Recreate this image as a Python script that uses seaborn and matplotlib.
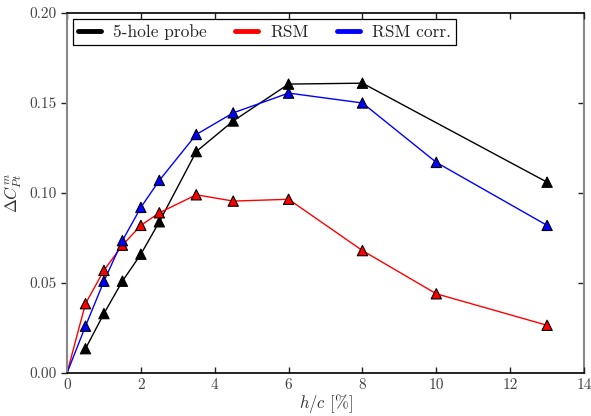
import matplotlib
matplotlib.use('Agg')
import matplotlib.pyplot as plt
from matplotlib.lines import Line2D
import seaborn as sns
import pandas as pd

# data
hc_probe = [0.5, 1.0, 1.5, 2.0, 2.5, 3.5, 4.5, 6.0, 8.0, 13.0]
dcp_probe = [0.0135, 0.033, 0.051, 0.066, 0.084, 0.123, 0.140, 0.1605, 0.161, 0.106]

hc_rsm = [0.0, 0.5, 1.0, 1.5, 2.0, 2.5, 3.5, 4.5, 6.0, 8.0, 10.0, 13.0]
dcp_rsm = [0.0, 0.0385, 0.057, 0.071, 0.082, 0.089, 0.099, 0.0955, 0.0965, 0.068, 0.044, 0.0265]

hc_corr = [0.0, 0.5, 1.0, 1.5, 2.0, 2.5, 3.5, 4.5, 6.0, 8.0, 10.0, 13.0]
dcp_corr = [0.0, 0.026, 0.051, 0.0735, 0.092, 0.107, 0.1325, 0.1445, 0.1555, 0.150, 0.117, 0.082]

names = ['5-hole probe', 'RSM', 'RSM corr.']
colors = ['black', 'red', 'blue']

df = pd.concat([
    pd.DataFrame({'hc': hc_probe, 'dcp': dcp_probe, 'src': names[0]}),
    pd.DataFrame({'hc': hc_rsm, 'dcp': dcp_rsm, 'src': names[1]}),
    pd.DataFrame({'hc': hc_corr, 'dcp': dcp_corr, 'src': names[2]}),
])
pts = df[df['hc'] > 0]

sns.set_style('ticks')
plt.rcParams['font.family'] = ['cmr10', 'DejaVu Serif']
plt.rcParams['mathtext.fontset'] = 'cm'
plt.rcParams['axes.unicode_minus'] = False

fig = plt.figure(figsize=(5.91, 4.16), dpi=100)
ax = fig.add_axes([0.1134, 0.1034, 0.8748, 0.8654])

pal = dict(zip(names, colors))
sns.lineplot(data=df, x='hc', y='dcp', hue='src', palette=pal, sort=False,
             linewidth=1.0, legend=False, ax=ax, estimator=None)
sns.scatterplot(data=pts, x='hc', y='dcp', hue='src', palette=pal, marker='^',
                s=55, edgecolor='black', linewidth=0.8, legend=False, ax=ax, zorder=3)

ax.set_xlim(0, 14)
ax.set_ylim(0, 0.20)
ax.set_xticks(range(0, 15, 2))
ax.set_yticks([0, 0.05, 0.10, 0.15, 0.20])
ax.set_yticklabels(['0.00', '0.05', '0.10', '0.15', '0.20'])
ax.set_xlabel(r'$h/c$ [%]', fontsize=12, color='#333333', labelpad=0)
ax.set_ylabel(r'$\Delta C_{Pt}^{m}$', fontsize=12, color='#333333', labelpad=4)

ax.tick_params(axis='x', direction='in', top=True, length=4, width=1,
               labelsize=11, labelcolor='#444444', color='#222222', pad=4)
ax.tick_params(axis='y', direction='out', right=False, length=4, width=1,
               labelsize=11, labelcolor='#444444', color='#222222')
for s in ['top', 'bottom']:
    ax.spines[s].set_color('black')
    ax.spines[s].set_linewidth(1.2)
ax.spines['left'].set_color('#888888')
ax.spines['left'].set_linewidth(1.5)
ax.spines['right'].set_visible(False)

sec = ax.secondary_yaxis('right')
sec.set_yticks([0.05, 0.10, 0.15])
sec.tick_params(direction='in', length=4, width=1, labelright=False, color='#222222')
sec.spines['right'].set_color('#888888')
sec.spines['right'].set_linewidth(1.5)

handles = [Line2D([0], [0], color=c, lw=3.5) for c in colors]
leg = ax.legend(handles, names, loc='upper left', ncol=3, fontsize=12.5,
                frameon=True, fancybox=False, edgecolor='black', framealpha=1,
                handlelength=1.3, columnspacing=1.65, borderaxespad=0.35,
                handletextpad=0.7, borderpad=0.3)
leg.get_frame().set_linewidth(0.9)

fig.savefig('out.png', dpi=100)
